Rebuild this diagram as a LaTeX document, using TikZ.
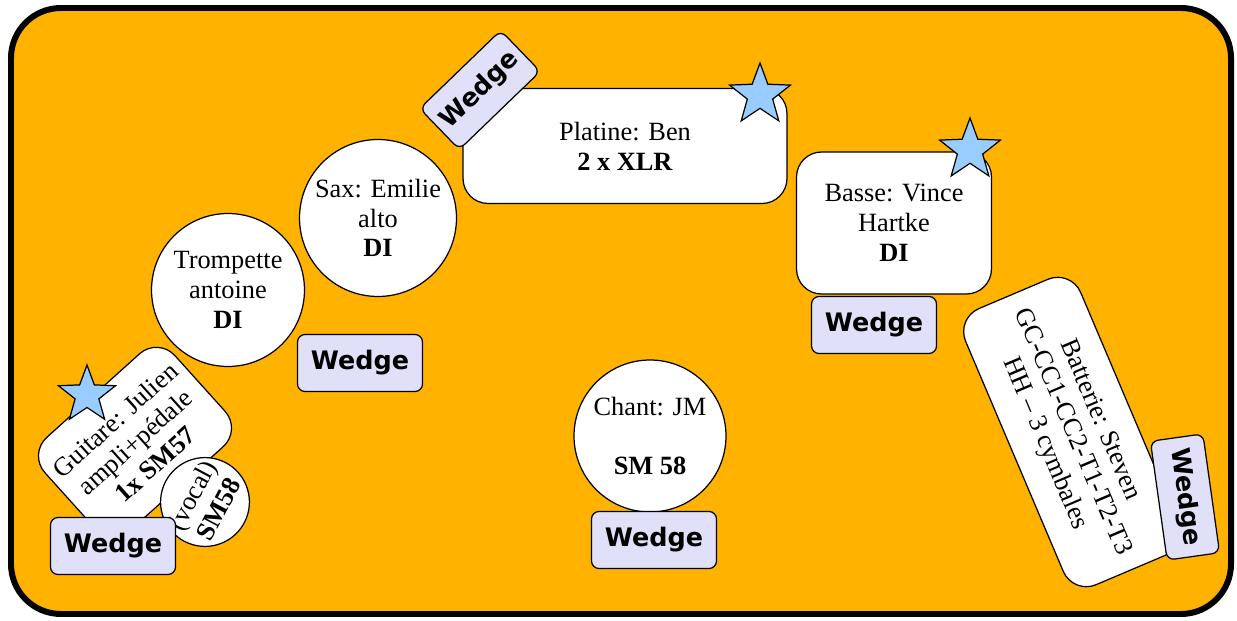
\documentclass[tikz,border=0pt]{standalone}
\usepackage{fontspec}
\setmainfont{Liberation Serif}
\newfontfamily\wedgefam{DejaVu Sans}
\usetikzlibrary{shapes.geometric}
\definecolor{fondscene}{RGB}{255,178,0}
\definecolor{wedgefill}{RGB}{224,224,248}
\definecolor{etoilebleu}{RGB}{153,204,255}

\begin{document}
\begin{tikzpicture}[x=0.02cm, y=-0.02cm,
                boite/.style={draw=black,line width=0.7pt,fill=white,align=center,rounded corners=0.5cm,inner sep=0pt,font=\fontsize{15}{17}\selectfont},
                rond/.style={circle,draw=black,line width=0.7pt,fill=white,align=center,inner sep=0pt,font=\fontsize{15}{17}\selectfont},
                retour/.style={draw=black,line width=0.7pt,fill=wedgefill,rounded corners=0.15cm,minimum width=2.5cm,minimum height=1.14cm,inner sep=0pt,font=\wedgefam\bfseries\fontsize{14.5}{17}\selectfont},
                etoile/.style={star,star points=5,star point ratio=2.4,draw=black,line width=0.7pt,fill=etoilebleu,minimum size=1.28cm,inner sep=0pt}
            ]
                \useasboundingbox (0,0) rectangle (1237,621);
                \draw[line width=3.4pt,rounded corners=1cm,fill=fondscene] (11,8) rectangle (1231,614);

                \node[boite,minimum width=6.48cm,minimum height=2.3cm] (platine) at (625,146) {Platine: Ben\\\textbf{2 x XLR}};
                \node[retour,minimum width=2.25cm,rotate=44] (wplatine) at (480,90) {Wedge};
                \node[etoile] (splatine) at (760,95) {};

                \node[rond,minimum size=3.14cm] (sax) at (378,218) {Sax: Emilie\\alto\\\textbf{DI}};
                \node[rond,minimum size=3.06cm] (trompette) at (228,290) {Trompette\\antoine\\\textbf{DI}};
                \node[retour] (wtrompette) at (360,363) {Wedge};

                \node[boite,minimum width=3.5cm,minimum height=2.5cm,rotate=42] (guitare) at (135,442) {Guitare: Julien\\ampli+pédale\\\textbf{1x SM57}};
                \node[etoile,minimum size=1.2cm] (sguitare) at (87,395) {};
                \node[rond,minimum size=1.68cm,rotate=62] (vocal) at (205,502) {(vocal)\\\textbf{SM58}};
                \node[retour] (wguitare) at (113,546) {Wedge};

                \node[rond,minimum size=3.04cm] (chant) at (650,436) {Chant: JM\\\mbox{}\\\textbf{SM 58}};
                \node[retour] (wchant) at (654,540) {Wedge};

                \node[boite,minimum width=3.9cm,minimum height=2.84cm] (basse) at (894,223) {Basse: Vince\\Hartke\\\textbf{DI}};
                \node[etoile] (sbasse) at (970,150) {};
                \node[retour] (wbasse) at (874,325) {Wedge};

                \node[boite,minimum width=6cm,minimum height=2.5cm,rotate=-67] (batterie) at (1072,432) {Batterie: Steven\\GC-CC1-CC2-T1-T2-T3\\HH -- 3 cymbales};
                \node[retour,minimum width=2.4cm,minimum height=1.06cm,rotate=-82] (wbatterie) at (1185,497) {Wedge};

            \end{tikzpicture}
\end{document}
